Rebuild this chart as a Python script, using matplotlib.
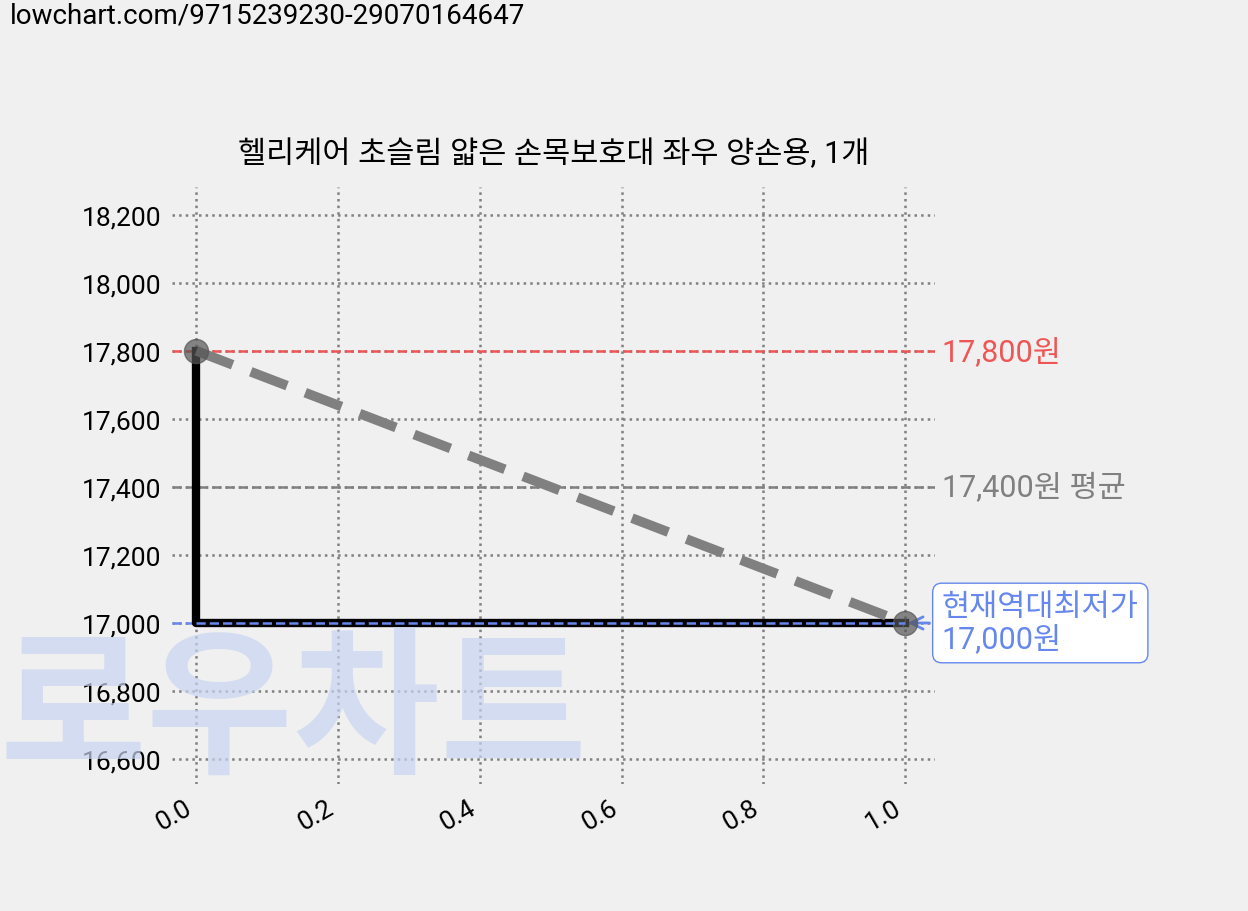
import matplotlib
matplotlib.use("Agg")
import matplotlib.pyplot as plt

plt.rcParams['font.family'] = ['Roboto', 'Noto Sans CJK KR', 'DejaVu Sans']

x = [0, 1]
prices = [17800, 17000]
max_price = 17800
avg_price = 17400
min_price = 17000
title = "헬리케어 초슬림 얇은 손목보호대 좌우 양손용, 1개"
yticks = [16600, 16800, 17000, 17200, 17400, 17600, 17800, 18000, 18200]
xticks = [0.0, 0.2, 0.4, 0.6, 0.8, 1.0]

fig = plt.figure(figsize=(12.48, 9.12), dpi=100, facecolor='#f0f0f0')
ax = fig.add_axes([0.138, 0.139, 0.611, 0.655], facecolor='#f0f0f0')
fig.text(0.008, 0.997, "lowchart.com/9715239230-29070164647", fontsize=20, va='top', ha='left')
fig.text(0.0, 0.165, "로우차트", fontsize=115, fontweight='bold', color='#c8d4f0', alpha=0.7, zorder=0)

ax.step(x, prices, where='pre', color='black', lw=6, zorder=3)
ax.plot(x, prices, color='gray', lw=7, ls=(0, (4, 2)), zorder=4)
ax.scatter(x, prices, s=300, color='#555555', alpha=0.7, zorder=5)

ax.axhline(max_price, color='#ee5555', ls='--', lw=1.8)
ax.axhline(avg_price, color='gray', ls='--', lw=1.8)
ax.plot([-0.034, 0], [min_price, min_price], color='#6688ee', ls='--', lw=1.8)
ax.plot([0, 1], [min_price, min_price], color='#6688ee', ls='--', lw=1.8, zorder=6)

ax.set_xlim(-0.034, 1.042)
ax.set_ylim(16526, 18282)
ax.set_xticks(xticks)
ax.set_xticklabels([f"{t:.1f}" for t in xticks], rotation=30, ha='right', fontsize=19)
ax.set_yticks(yticks)
ax.set_yticklabels([f"{t:,}" for t in yticks], fontsize=19)
ax.grid(True, ls=':', color='gray', lw=1.8)
for s in ax.spines.values():
    s.set_visible(False)
ax.tick_params(length=0, pad=8)
ax.set_title(title, fontsize=22, pad=18)

ax.text(1.052, max_price, f"{max_price:,}원", color='#ee5555', fontsize=22, va='center', clip_on=False)
ax.text(1.052, avg_price, f"{avg_price:,}원 평균", color='gray', fontsize=22, va='center', clip_on=False)
ax.annotate(f"현재역대최저가\n{min_price:,}원", xy=(1.0, min_price), xytext=(1.052, min_price),
            color='#6688ee', fontsize=22, va='center', linespacing=1.1,
            bbox=dict(boxstyle='round,pad=0.3', fc='white', ec='#6688ee'),
            arrowprops=dict(arrowstyle='->', color='#6688ee', lw=2), annotation_clip=False)

fig.savefig("out.png", dpi=100, facecolor=fig.get_facecolor())
